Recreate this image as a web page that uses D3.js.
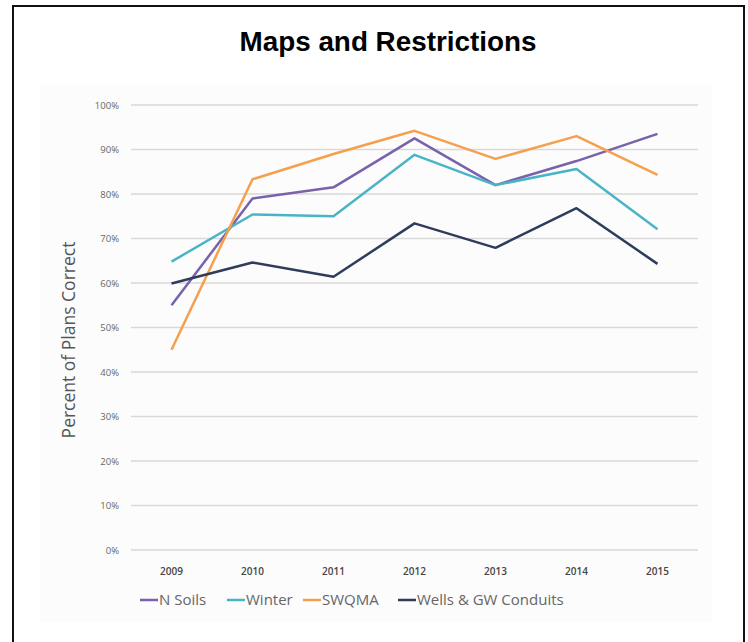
<!DOCTYPE html>
<html>
<head>
<meta charset="utf-8">
<script src="https://d3js.org/d3.v7.min.js"></script>
<style>
	body { margin: 0; background: #fff; }
	svg { display: block; }
</style>
</head>
<body>
<div id="chart"></div>
<script>
// chart values
const years = ['2009', '2010', '2011', '2012', '2013', '2014', '2015'];
const n_soils = [55, 79, 81.5, 92.5, 82, 87.4, 93.5];
const winter = [64.8, 75.4, 75, 88.8, 82, 85.6, 72.1];
const swqma = [45, 83.3, 89, 94.2, 87.9, 93, 84.3];
const wells = [59.9, 64.6, 61.4, 73.4, 67.9, 76.8, 64.3];
const series_names = ['N Soils', 'Winter', 'SWQMA', 'Wells & GW Conduits'];
const y_ticks = [0, 10, 20, 30, 40, 50, 60, 70, 80, 90, 100];

const series = [n_soils, winter, swqma, wells];
const colors = ['#7862ac', '#4ab4c6', '#f4a04e', '#2e3d5c'];

const width = 748, height = 642;
const svg = d3.select('#chart').append('svg')
	.attr('width', width)
	.attr('height', height);

// frame (left, top, right, no bottom edge)
svg.append('path')
	.attr('d', `M13,${height} L13,6 L744,6 L744,${height}`)
	.attr('fill', 'none')
	.attr('stroke', '#111')
	.attr('stroke-width', 2);

// faint chart panel
svg.append('rect')
	.attr('x', 40).attr('y', 84)
	.attr('width', 672).attr('height', 538)
	.attr('fill', '#fcfcfc');

svg.append('text')
	.attr('x', 388)
	.attr('y', 51)
	.attr('text-anchor', 'middle')
	.style('font-family', 'Liberation Sans, Arial, sans-serif')
	.style('font-weight', 'bold')
	.style('font-size', '27px')
	.attr('textLength', 297)
	.attr('lengthAdjust', 'spacingAndGlyphs')
	.text('Maps and Restrictions');

const x = d3.scaleBand().domain(years).range([131, 698]);
const y = d3.scaleLinear().domain([0, 100]).range([550, 105]);

// gridlines
svg.append('g')
	.selectAll('line')
	.data(y_ticks)
	.enter()
	.append('line')
	.attr('x1', 131).attr('x2', 698)
	.attr('y1', d => y(d)).attr('y2', d => y(d))
	.attr('stroke', '#d9d9d9')
	.attr('stroke-width', 1.5);

// y axis labels
const y_axis = svg.append('g')
	.attr('transform', 'translate(131,0)')
	.call(d3.axisLeft(y).tickValues(y_ticks).tickFormat(d => d + '%').tickSize(0).tickPadding(12));
y_axis.select('.domain').remove();
y_axis.selectAll('text')
	.style('font-family', 'Open Sans, sans-serif')
	.style('font-size', '9.5px')
	.attr('fill', '#666');

// x axis labels
const x_axis = svg.append('g')
	.attr('transform', 'translate(0,550)')
	.call(d3.axisBottom(x).tickSize(0).tickPadding(18));
x_axis.select('.domain').remove();
x_axis.selectAll('text')
	.style('font-family', 'Open Sans, sans-serif')
	.style('font-size', '10px')
	.style('font-weight', '600')
	.attr('fill', '#444');

// y axis title
svg.append('text')
	.attr('transform', 'translate(75,340) rotate(-90)')
	.attr('text-anchor', 'middle')
	.style('font-family', 'Open Sans, sans-serif')
	.style('font-size', '17.5px')
	.attr('fill', '#555')
	.text('Percent of Plans Correct');

// series lines
const line = d3.line()
	.x((d, i) => x(years[i]) + x.bandwidth() / 2)
	.y(d => y(d));

svg.append('g')
	.selectAll('path')
	.data(series)
	.enter()
	.append('path')
	.attr('d', d => line(d))
	.attr('fill', 'none')
	.attr('stroke', (d, i) => colors[i])
	.attr('stroke-width', 2.5)
	.attr('stroke-linejoin', 'round');

// legend
const legend_x = [140, 227, 303, 398];
const legend = svg.append('g')
	.selectAll('g')
	.data(series_names)
	.enter()
	.append('g')
	.attr('transform', (d, i) => `translate(${legend_x[i]},600)`);
legend.append('line')
	.attr('x1', 0).attr('x2', 18)
	.attr('stroke', (d, i) => colors[i])
	.attr('stroke-width', 2.5);
legend.append('text')
	.attr('x', 19)
	.attr('dy', '0.35em')
	.style('font-family', 'Open Sans, sans-serif')
	.style('font-size', '15px')
	.attr('fill', '#666')
	.text(d => d);
</script>
</body>
</html>
